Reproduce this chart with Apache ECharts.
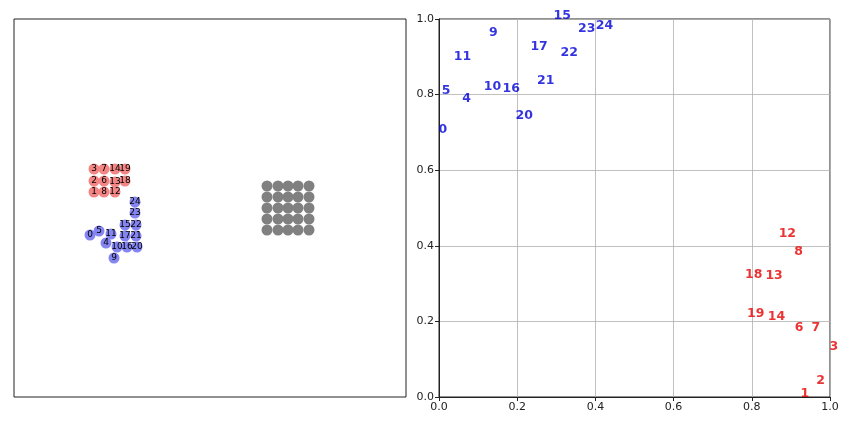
<!DOCTYPE html>
<html><head><meta charset="utf-8">
<script src="https://cdn.jsdelivr.net/npm/echarts@6/dist/echarts.min.js"></script>
<style>html,body{margin:0;padding:0;background:#fff}#c{width:850px;height:425px}</style>
</head><body><div id="c"></div><script>
// Left panel: node layout (data units of the hidden left axes)
const leftRedIds = [3, 7, 14, 19, 2, 6, 13, 18, 1, 8, 12];
const leftRedX   = [80, 90, 101, 111, 80, 90, 101, 111, 80, 90, 101];
const leftRedY   = [228, 228, 228, 228, 216, 216, 215, 216, 205, 205, 205];
const leftBlueIds = [24, 23, 15, 22, 0, 5, 11, 17, 21, 4, 10, 16, 20, 9];
const leftBlueX   = [121, 121, 111, 122, 76, 85, 97, 111, 122, 92, 103, 113, 123, 100];
const leftBlueY   = [195, 184, 172, 172, 162, 166, 163, 161, 161, 154, 150, 150, 150, 139];
const leftGreyX = [253, 264, 274, 284, 295, 253, 264, 274, 284, 295, 253, 264, 274, 284, 295,
                   253, 264, 274, 284, 295, 253, 264, 274, 284, 295];
const leftGreyY = [211, 211, 211, 211, 211, 200, 200, 200, 200, 200, 189, 189, 189, 189, 189,
                   178, 178, 178, 178, 178, 167, 167, 167, 167, 167];

// Right panel: labelled embedding
const rightRedIds = [1, 2, 3, 6, 7, 8, 12, 13, 14, 18, 19];
const rightRedX   = [0.926, 0.966, 1.0, 0.911, 0.954, 0.910, 0.870, 0.836, 0.842, 0.784, 0.789];
const rightRedY   = [0.0, 0.034, 0.124, 0.175, 0.175, 0.376, 0.424, 0.313, 0.204, 0.316, 0.211];
const rightBlueIds = [0, 4, 5, 9, 10, 11, 15, 16, 17, 20, 21, 22, 23, 24];
const rightBlueX   = [0.0, 0.061, 0.008, 0.129, 0.116, 0.039, 0.294, 0.164, 0.235, 0.197, 0.252, 0.312, 0.357, 0.402];
const rightBlueY   = [0.698, 0.781, 0.801, 0.955, 0.814, 0.892, 1.0, 0.807, 0.918, 0.735, 0.828, 0.902, 0.966, 0.975];
const rightTicks = ['0.0', '0.2', '0.4', '0.6', '0.8', '1.0'];

const FONT = 'DejaVu Sans';
function pts(xs, ys, ids) {
  return xs.map((x, i) => ids ? [x, ys[i], ids[i]] : [x, ys[i]]);
}
function nodeSeries(xs, ys, ids, color) {
  return {
    type: 'scatter', xAxisIndex: 0, yAxisIndex: 0,
    data: pts(xs, ys, ids), symbolSize: 11,
    itemStyle: { color: color, opacity: 1 },
    label: ids ? { show: true, position: 'inside', formatter: p => String(p.value[2]),
      color: '#000', fontFamily: FONT, fontSize: 9 } : { show: false },
    emphasis: { disabled: true }, silent: true, z: 2
  };
}
function textSeries(xs, ys, ids, color) {
  return {
    type: 'scatter', xAxisIndex: 1, yAxisIndex: 1,
    data: pts(xs, ys, ids), symbolSize: 1,
    itemStyle: { color: 'transparent' },
    label: { show: true, position: [0, 0], align: 'left', verticalAlign: 'bottom', offset: [0, 4],
      formatter: p => String(p.value[2]), color: color, fontFamily: FONT,
      fontWeight: 'bold', fontSize: 12.5 },
    emphasis: { disabled: true }, silent: true, clip: false, z: 3
  };
}

const chart = echarts.init(document.getElementById('c'), null, { renderer: 'canvas' });
chart.setOption({
  animation: false,
  backgroundColor: '#fff',
  grid: [
    { left: 14, top: 19, width: 392, height: 378, show: true, borderColor: '#222', borderWidth: 1, backgroundColor: 'transparent' },
    { left: 439, top: 19, width: 391, height: 378, show: true, borderColor: '#222', borderWidth: 1, backgroundColor: 'transparent' }
  ],
  xAxis: [
    { gridIndex: 0, type: 'value', min: 0, max: 392, show: false },
    { gridIndex: 1, type: 'value', min: 0, max: 1, interval: 0.2,
      axisLine: { show: true, lineStyle: { color: '#222', width: 1 } },
      axisTick: { show: true, inside: false, length: 4, lineStyle: { color: '#222' } },
      axisLabel: { margin: 5, color: '#222', fontFamily: FONT, fontSize: 11,
        formatter: v => rightTicks[Math.round(v / 0.2)] },
      splitLine: { show: true, lineStyle: { color: '#b0b0b0', width: 0.8 } } }
  ],
  yAxis: [
    { gridIndex: 0, type: 'value', min: 0, max: 378, show: false },
    { gridIndex: 1, type: 'value', min: 0, max: 1, interval: 0.2,
      axisLine: { show: true, lineStyle: { color: '#222', width: 1 } },
      axisTick: { show: true, inside: false, length: 4, lineStyle: { color: '#222' } },
      axisLabel: { margin: 5, color: '#222', fontFamily: FONT, fontSize: 11,
        formatter: v => rightTicks[Math.round(v / 0.2)] },
      splitLine: { show: true, lineStyle: { color: '#b0b0b0', width: 0.8 } } }
  ],
  series: [
    nodeSeries(leftRedX, leftRedY, leftRedIds, '#f48585'),
    nodeSeries(leftBlueX, leftBlueY, leftBlueIds, '#8585f2'),
    nodeSeries(leftGreyX, leftGreyY, null, '#808080'),
    textSeries(rightRedX, rightRedY, rightRedIds, '#e60000'),
    textSeries(rightBlueX, rightBlueY, rightBlueIds, '#0000d8')
  ]
});
</script></body></html>
